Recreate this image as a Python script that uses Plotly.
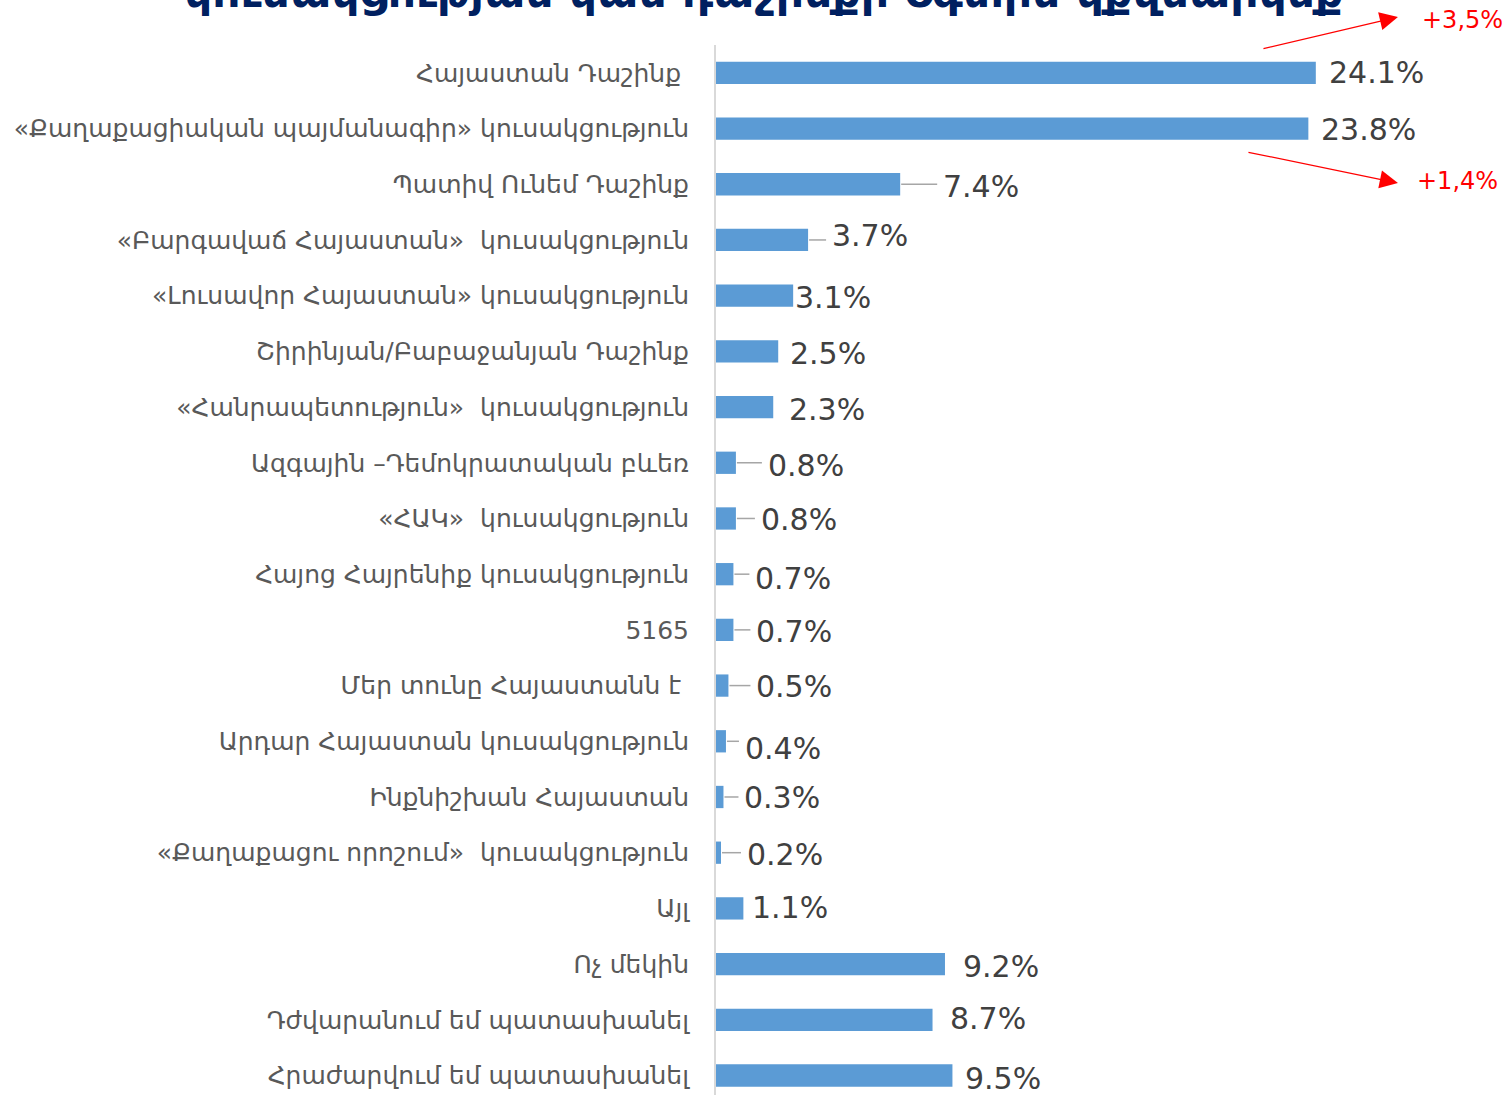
import plotly.graph_objects as go

categories = [
    "Հայաստան Դաշինք\u00a0",
    "«Քաղաքացիական պայմանագիր» կուսակցություն",
    "Պատիվ Ունեմ Դաշինք",
    "«Բարգավաճ Հայաստան»\u00a0 կուսակցություն",
    "«Լուսավոր Հայաստան» կուսակցություն",
    "Շիրինյան/Բաբաջանյան Դաշինք",
    "«Հանրապետություն»\u00a0 կուսակցություն",
    "Ազգային –Դեմոկրատական բևեռ",
    "«ՀԱԿ»\u00a0 կուսակցություն",
    "Հայոց Հայրենիք կուսակցություն",
    "5165",
    "Մեր տունը Հայաստանն է\u00a0",
    "Արդար Հայաստան կուսակցություն",
    "Ինքնիշխան Հայաստան",
    "«Քաղաքացու որոշում»\u00a0 կուսակցություն",
    "Այլ",
    "Ոչ մեկին",
    "Դժվարանում եմ պատասխանել",
    "Հրաժարվում եմ պատասխանել",
]
values = [24.1, 23.8, 7.4, 3.7, 3.1, 2.5, 2.3, 0.8, 0.8, 0.7, 0.7, 0.5, 0.4, 0.3, 0.2, 1.1, 9.2, 8.7, 9.5]
value_labels = [f"{v:.1f}%" for v in values]

title_text = "կուսակցության կամ դաշինքի օգտին կքվեարկեք"
change_labels = ["+3,5%", "+1,4%"]

# layout-only styling: pixel gap between bar end and label, vertical nudge, leader line flag
label_gap_px = [13, 13, 43, 24, 2, 12, 16, 32, 25, 22, 23, 28, 19, 21, 26, 9, 18, 17, 13]
label_dy_px = [0, 1, 2, -4, 2, 2, 2, 3, 1, 4, 2, 1, 7, 1, 2, -1, 2, -1, 3]
leader = [False, False, True, True, False, False, False, True, True, True, True, True, True, True, True, False, False, False, False]

BAR = "#5b9bd5"
FONT = "DejaVu Sans, sans-serif"

fig = go.Figure()
fig.add_trace(go.Bar(
    x=values, y=categories, orientation="h",
    marker=dict(color=BAR, line=dict(width=0)),
    width=0.4, hoverinfo="skip",
))

annotations = []
shapes = []
for i, (v, t) in enumerate(zip(values, value_labels)):
    annotations.append(dict(
        x=v, y=i, xref="x", yref="y", text=t, showarrow=False,
        xanchor="left", yanchor="middle",
        xshift=label_gap_px[i] - 2, yshift=-label_dy_px[i],
        font=dict(family=FONT, size=30, color="#404040"),
    ))
    if leader[i]:
        shapes.append(dict(
            type="line", xref="x", yref="y", xsizemode="pixel", xanchor=v,
            x0=1, x1=label_gap_px[i] - 6, y0=i, y1=i,
            line=dict(color="#a6a6a6", width=1.5),
        ))

# title (partially cut off at the top, as in the reference)
annotations.append(dict(
    x=(763.5 - 716) / 784, y=1.0505, xref="paper", yref="paper",
    text=f"<b>{title_text}</b>", showarrow=False, xanchor="center", yanchor="middle",
    font=dict(family="DejaVu Sans, sans-serif", size=44, color="#002060"),
))

# red change arrows
annotations += [
    dict(x=27.40, y=1.0267, xref="x", yref="paper", ax=-136, ay=32, text="",
         showarrow=True, arrowhead=2, arrowsize=2.8, arrowwidth=1.3, arrowcolor="#ff0000"),
    dict(x=27.40, y=0.8686, xref="x", yref="paper", ax=-151, ay=-31, text="",
         showarrow=True, arrowhead=2, arrowsize=2.8, arrowwidth=1.3, arrowcolor="#ff0000"),
    dict(x=28.28, y=1.0238, xref="x", yref="paper", text=change_labels[0], showarrow=False,
         xanchor="left", yanchor="middle", font=dict(family=FONT, size=24, color="#ff0000")),
    dict(x=28.08, y=0.8705, xref="x", yref="paper", text=change_labels[1], showarrow=False,
         xanchor="left", yanchor="middle", font=dict(family=FONT, size=24, color="#ff0000")),
]

fig.update_layout(
    width=1502, height=1095,
    margin=dict(l=716, r=2, t=45, b=0, pad=0),
    paper_bgcolor="white", plot_bgcolor="white",
    showlegend=False,
    annotations=annotations, shapes=shapes,
    xaxis=dict(range=[0, 31.5], visible=False, fixedrange=True),
    yaxis=dict(
        type="category", range=[18.35, -0.5], showgrid=False, zeroline=False,
        showline=True, linecolor="#d9d9d9", linewidth=2, ticks="",
        ticklabelstandoff=20, fixedrange=True,
        tickfont=dict(family=FONT, size=25, color="#595959"),
    ),
)

fig.write_html(
    "out.html",
    config={"displayModeBar": False},
    post_script="document.body.style.margin='0';document.body.style.overflow='hidden';",
)
